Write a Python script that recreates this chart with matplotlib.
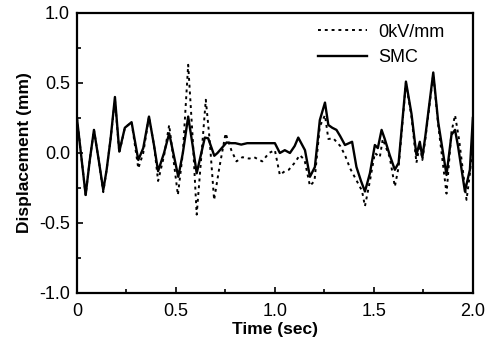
import matplotlib
matplotlib.use("Agg")
import matplotlib.pyplot as plt
from matplotlib.ticker import MultipleLocator

# SMC (solid) series
smc_t = [0, 0.02, 0.044, 0.065, 0.086, 0.11, 0.133, 0.15, 0.17, 0.192, 0.214, 0.242, 0.276,
         0.31, 0.335, 0.364, 0.39, 0.41, 0.44, 0.466, 0.512, 0.535, 0.562, 0.585, 0.605,
         0.646, 0.663, 0.694, 0.71, 0.756, 0.78, 0.80, 0.83, 0.86, 0.88, 0.90, 0.93, 0.96,
         1.0, 1.025, 1.05, 1.076, 1.1, 1.118, 1.152, 1.177, 1.202, 1.227, 1.253, 1.27, 1.29,
         1.311, 1.33, 1.354, 1.39, 1.412, 1.435, 1.455, 1.48, 1.505, 1.52, 1.539, 1.555,
         1.58, 1.606, 1.625, 1.662, 1.69, 1.715, 1.732, 1.745, 1.76, 1.8, 1.825, 1.867,
         1.892, 1.91, 1.925, 1.96, 1.985, 2.0]
smc_y = [0.25, 0.0, -0.30, -0.05, 0.165, -0.05, -0.265, -0.12, 0.1, 0.40, 0.01, 0.18, 0.22,
         -0.05, 0.035, 0.26, 0.05, -0.13, 0.0, 0.14, -0.17, 0.0, 0.26, 0.05, -0.145,
         0.11, 0.105, -0.02, 0.0, 0.075, 0.07, 0.07, 0.06, 0.07, 0.07, 0.07, 0.07, 0.07,
         0.07, 0.0, 0.02, 0.0, 0.05, 0.11, 0.02, -0.17, -0.1, 0.235, 0.36, 0.2, 0.18,
         0.165, 0.12, 0.057, 0.08, -0.1, -0.2, -0.275, -0.145, 0.057, 0.035, 0.165, 0.1,
         -0.015, -0.12, -0.07, 0.51, 0.28, -0.015, 0.08, -0.03, 0.12, 0.575, 0.22, -0.157,
         0.13, 0.165, 0.05, -0.275, -0.12, 0.25]

# 0kV/mm (dotted) series
off_t = [0, 0.02, 0.044, 0.065, 0.086, 0.11, 0.133, 0.15, 0.17, 0.192, 0.214, 0.242, 0.276,
         0.31, 0.335, 0.364, 0.39, 0.41, 0.44, 0.466, 0.51, 0.535, 0.562, 0.585, 0.605,
         0.651, 0.67, 0.693, 0.72, 0.751, 0.78, 0.806, 0.836, 0.87, 0.895, 0.936, 0.97,
         1.0, 1.025, 1.05, 1.07, 1.10, 1.126, 1.15, 1.177, 1.2, 1.227, 1.253, 1.27, 1.295,
         1.33, 1.354, 1.38, 1.44, 1.455, 1.48, 1.505, 1.53, 1.545, 1.58, 1.606, 1.625,
         1.662, 1.69, 1.715, 1.732, 1.745, 1.76, 1.8, 1.825, 1.867, 1.892, 1.91, 1.93,
         1.968, 1.985, 2.0]
off_y = [0.25, 0.0, -0.30, -0.05, 0.165, -0.05, -0.28, -0.12, 0.1, 0.38, 0.0, 0.18, 0.22,
         -0.11, 0.0, 0.26, 0.05, -0.2, -0.02, 0.2, -0.30, 0.0, 0.63, 0.1, -0.44,
         0.38, 0.1, -0.335, -0.1, 0.14, 0.02, -0.06, -0.03, -0.04, -0.03, -0.06, 0.0,
         0.02, -0.157, -0.13, -0.12, -0.07, -0.015, -0.05, -0.235, -0.2, 0.19, 0.27, 0.1, 0.105,
         0.05, -0.015, -0.11, -0.27, -0.38, -0.2, 0.0, -0.03, 0.1, -0.03, -0.24, -0.1,
         0.5, 0.26, -0.07, 0.06, -0.05, 0.1, 0.56, 0.2, -0.29, 0.15, 0.27, 0.1,
         -0.335, -0.15, 0.1]

x_ticks = [0, 0.5, 1.0, 1.5, 2.0]
x_ticklabels = ["0", "0.5", "1.0", "1.5", "2.0"]
y_ticks = [-1.0, -0.5, 0.0, 0.5, 1.0]
y_ticklabels = ["-1.0", "-0.5", "0.0", "0.5", "1.0"]

plt.rcParams['font.family'] = ['Liberation Sans', 'DejaVu Sans']

fig = plt.figure(figsize=(4.9, 3.49), dpi=100)
ax = fig.add_axes([0.157, 0.1605, 0.808, 0.8023])

ax.plot(off_t, off_y, color='black', lw=1.4, linestyle=(0, (1.5, 2.0)), label='0kV/mm')
ax.plot(smc_t, smc_y, color='black', lw=1.7, solid_joinstyle='round', label='SMC')

ax.set_xlim(0, 2.0)
ax.set_ylim(-1.0, 1.0)
ax.set_xticks(x_ticks)
ax.set_xticklabels(x_ticklabels)
ax.set_yticks(y_ticks)
ax.set_yticklabels(y_ticklabels)
ax.xaxis.set_minor_locator(MultipleLocator(0.25))
ax.yaxis.set_minor_locator(MultipleLocator(0.25))
ax.tick_params(which='both', direction='in', top=False, right=False, width=1.2)
ax.tick_params(which='major', length=4, labelsize=13)
ax.tick_params(which='minor', length=3)
ax.tick_params(axis='x', pad=7)
ax.tick_params(axis='y', pad=5)
for s in ax.spines.values():
    s.set_linewidth(1.6)

ax.set_xlabel('Time (sec)', fontsize=12.5, fontweight='bold', labelpad=2)
ax.set_ylabel('Displacement (mm)', fontsize=12.5, fontweight='bold', labelpad=5)

leg = ax.legend(loc='upper right', frameon=False, fontsize=13, handlelength=2.7,
                handletextpad=0.6, labelspacing=0.45, borderaxespad=0.2,
                bbox_to_anchor=(0.955, 1.0))

fig.savefig('out.png', dpi=100)
